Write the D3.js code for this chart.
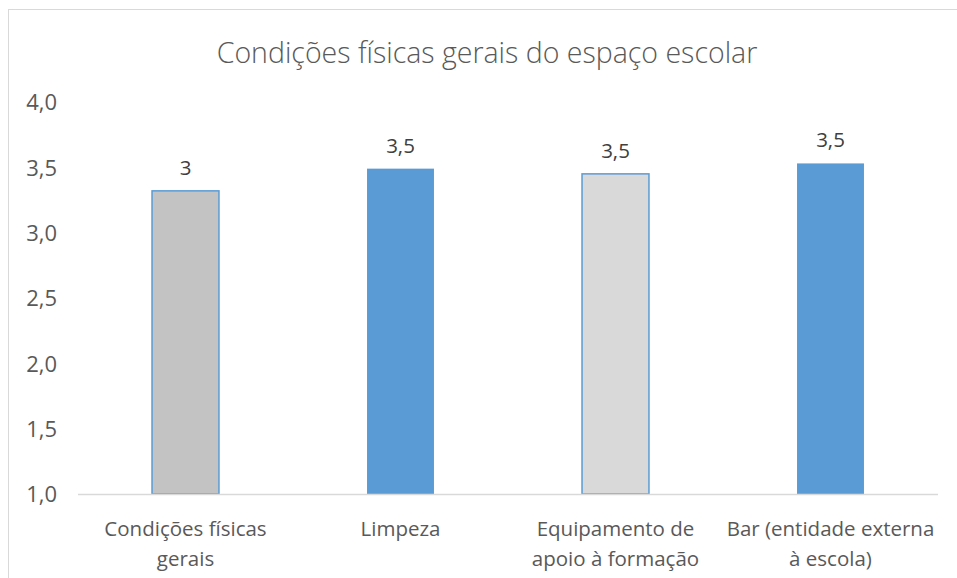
<!DOCTYPE html>
<html><head><meta charset="utf-8">
<script src="https://cdn.jsdelivr.net/npm/d3@7"></script>
<style>body{margin:0;background:#fff;} text{font-family:"Open Sans",sans-serif;}</style>
</head><body>
<svg id="c" width="957" height="578"></svg>
<script>
const title = "Condições físicas gerais do espaço escolar";
const categories = [["Condições físicas","gerais"],["Limpeza"],["Equipamento de","apoio à formação"],["Bar (entidade externa","à escola)"]];
const values = [3.32, 3.49, 3.45, 3.53];
const valueLabels = ["3","3,5","3,5","3,5"];
const fills = ["#C4C3C4","#5B9BD5","#D9D9D9","#5B9BD5"];
const yTicks = [1.0,1.5,2.0,2.5,3.0,3.5,4.0];

const svg = d3.select("#c");
svg.append("rect").attr("x",8.5).attr("y",9.5).attr("width",960).attr("height",600)
  .attr("fill","#fff").attr("stroke","#D9D9D9").attr("stroke-width",1);

const x = d3.scaleBand().domain(d3.range(categories.length)).range([78,938]).paddingInner(0.684).paddingOuter(0.342);
const y = d3.scaleLinear().domain([1,4]).range([494,102]);

svg.append("text").attr("x",487).attr("y",63).attr("text-anchor","middle")
  .attr("font-size",28.5).attr("fill","#595959").attr("font-weight",300).text(title);

// y axis labels
const yAxis = d3.axisLeft(y).tickValues(yTicks).tickSize(0).tickPadding(0)
  .tickFormat(d => d3.format(".1f")(d).replace(".",","));
const ga = svg.append("g").attr("transform","translate(57,0)").call(yAxis);
ga.select(".domain").remove();
ga.selectAll("text").attr("font-size",22).attr("fill","#595959").attr("font-family","Open Sans").attr("dy","0.36em");

// bars
svg.selectAll("rect.bar").data(values).join("rect").attr("class","bar")
  .attr("x",(d,i)=>x(i)+0.5).attr("width",x.bandwidth()-1)
  .attr("y",d=>y(d)).attr("height",d=>y(1)-y(d))
  .attr("fill",(d,i)=>fills[i])
  .attr("stroke",(d,i)=> fills[i]==="#5B9BD5" ? "none" : "#5B9BD5").attr("stroke-width",1.5);

// baseline
svg.append("line").attr("x1",78).attr("x2",938).attr("y1",494.5).attr("y2",494.5)
  .attr("stroke","#D9D9D9").attr("stroke-width",1.5);

// value labels
svg.selectAll("text.vl").data(values).join("text").attr("class","vl")
  .attr("x",(d,i)=>x(i)+x.bandwidth()/2).attr("y",d=>y(d)-16)
  .attr("text-anchor","middle").attr("font-size",20.5).attr("fill","#404040")
  .text((d,i)=>valueLabels[i]);

// category labels
const cg = svg.selectAll("text.cat").data(categories).join("text").attr("class","cat")
  .attr("text-anchor","middle").attr("font-size",20.5).attr("fill","#595959");
cg.each(function(lines,i){
  const t = d3.select(this);
  lines.forEach((l,j)=>t.append("tspan").attr("x",x(i)+x.bandwidth()/2).attr("y",536+j*30).text(l));
});
</script>
</body></html>
